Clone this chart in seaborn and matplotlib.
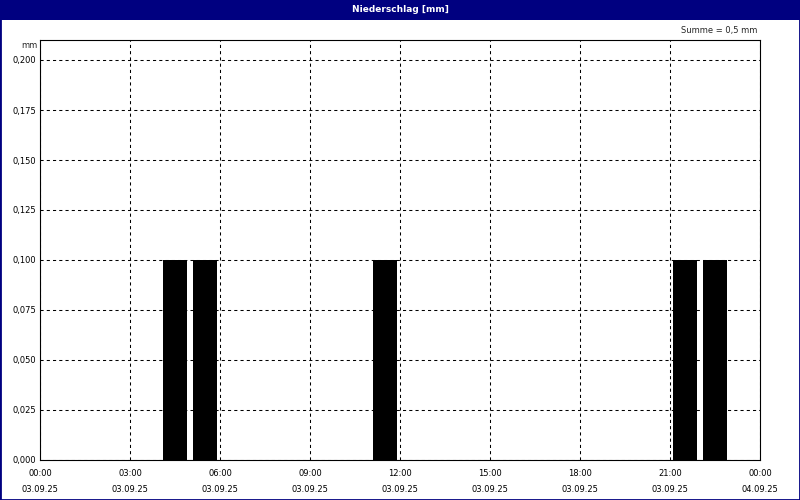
"""
Niederschlag [mm] — hourly precipitation for 03.09.25, weather-station style panel.
"""
import matplotlib
matplotlib.use("Agg")

import numpy as np
import pandas as pd
import matplotlib.pyplot as plt
import seaborn as sns
from matplotlib.patches import Rectangle

# ── Data ──────────────────────────────────────────────────────────────────────
rain_hours = [4, 5, 11, 21, 22]            # start hour of the hourly interval
rain_mm = [0.1, 0.1, 0.1, 0.1, 0.1]

tick_hours = [0, 3, 6, 9, 12, 15, 18, 21, 24]
tick_times = ["00:00", "03:00", "06:00", "09:00", "12:00",
              "15:00", "18:00", "21:00", "00:00"]
tick_dates = ["03.09.25"] * 8 + ["04.09.25"]
y_ticks = [0.000, 0.025, 0.050, 0.075, 0.100, 0.125, 0.150, 0.175, 0.200]

title = "Niederschlag [mm]"
unit_label = "mm"
total_label = "Summe = 0,5 mm"

NAVY = "#000080"
W, H = 800, 500

# ── Style ─────────────────────────────────────────────────────────────────────
sns.set_theme(style="white")
plt.rcParams.update({
    "font.family": ["DejaVu Sans"],
    "font.size": 6,
    "axes.edgecolor": "black",
    "axes.linewidth": 0.8,
    "xtick.color": "black",
    "ytick.color": "black",
})

df = pd.DataFrame({"hour": rain_hours, "mm": rain_mm})

fig = plt.figure(figsize=(W / 100, H / 100), dpi=100, facecolor="white")
ax = fig.add_axes([40 / W, 40 / H, 720 / W, 420 / H])

sns.histplot(data=df, x="hour", weights="mm", binwidth=1, binrange=(0, 24),
             shrink=0.8, color="black", alpha=1, linewidth=0, ax=ax)

ax.set_xlim(0, 24)
ax.set_ylim(0, 0.21)
ax.set_xlabel("")
ax.set_ylabel("")

ax.set_xticks(tick_hours)
ax.set_xticklabels([f"{t}\n{d}" for t, d in zip(tick_times, tick_dates)],
                   linespacing=2.0)
ax.set_xticks(range(0, 25), minor=True)
ax.set_yticks(y_ticks)
ax.set_yticklabels([f"{v:.3f}".replace(".", ",") for v in y_ticks])
ax.tick_params(axis="both", which="both", direction="out", length=2,
               width=0.8, labelsize=6)
ax.tick_params(axis="y", which="major", length=1.5, pad=1)
ax.tick_params(axis="x", which="major", pad=4.5)

ax.set_axisbelow(True)
ax.grid(True, axis="both", which="major", color="black",
        linestyle=(0, (3, 3)), linewidth=0.75)
for side in ("top", "right", "left", "bottom"):
    ax.spines[side].set_visible(True)
    ax.spines[side].set_color("black")

# ── Frame, title bar, annotations ────────────────────────────────────────────
fig.add_artist(Rectangle((0, 1 - 20 / H), 1, 20 / H, transform=fig.transFigure,
                         facecolor=NAVY, edgecolor="none"))
fig.add_artist(Rectangle((0, 0), 1, 1, transform=fig.transFigure,
                         fill=False, edgecolor=NAVY, linewidth=2))
fig.text(0.5, 1 - 10 / H, title, color="white", fontweight="bold",
         fontsize=6.5, ha="center", va="center")
fig.text(37 / W, 1 - 45 / H, unit_label, fontsize=6, ha="right", va="center")
fig.text(757 / W, 1 - 31 / H, total_label, fontsize=6, ha="right", va="center")

fig.savefig("out.png", dpi=100, facecolor="white")
